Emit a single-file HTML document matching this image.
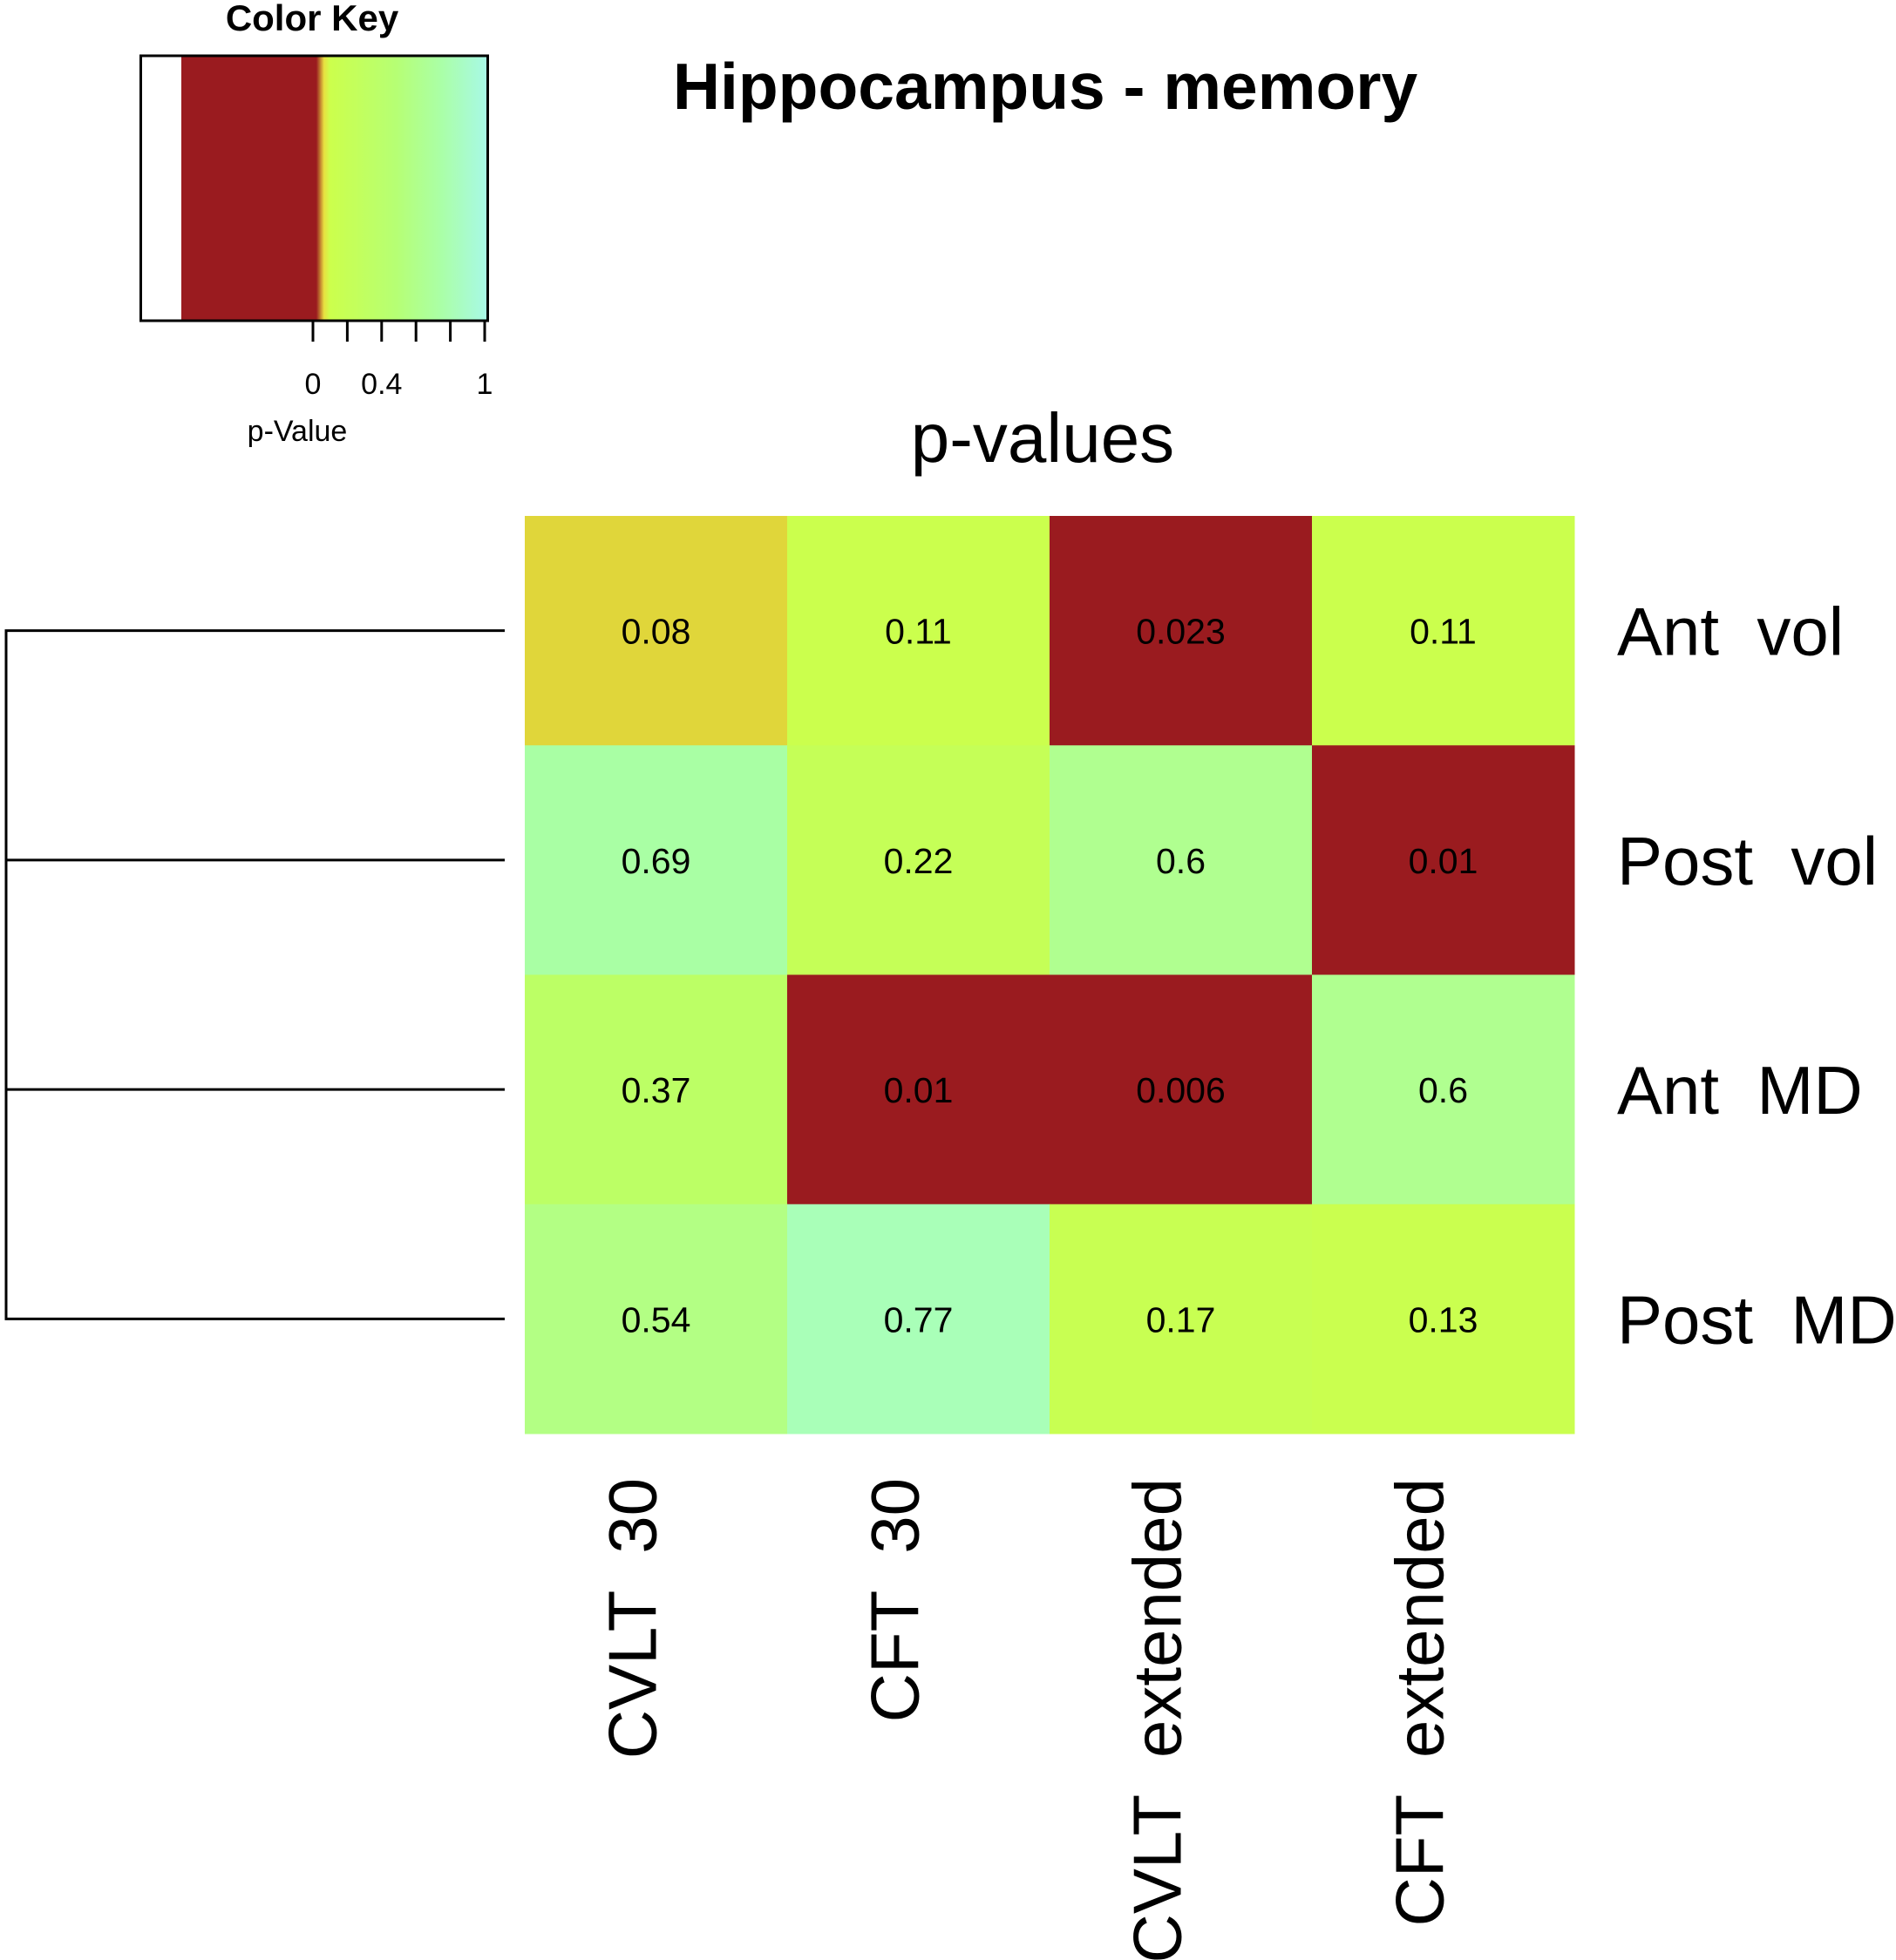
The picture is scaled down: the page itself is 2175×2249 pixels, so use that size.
<!DOCTYPE html>
<html><head><meta charset="utf-8"><style>
html,body{margin:0;padding:0;background:#fff;}
svg{display:block;}
text{font-family:"Liberation Sans",Arial,sans-serif;fill:#000;}
</style></head><body>
<svg id="chart" width="2175" height="2249" viewBox="0 0 2175 2249" xmlns="http://www.w3.org/2000/svg">
<defs>
<linearGradient id="kg" x1="0" x2="1" y1="0" y2="0">
<stop offset="0" stop-color="#9a1b1f"/><stop offset="0.44" stop-color="#9a1b1f"/>
<stop offset="0.465" stop-color="#e8e040"/><stop offset="0.485" stop-color="#ccff4c"/>
<stop offset="0.7" stop-color="#b6ff74"/><stop offset="0.85" stop-color="#aaffa8"/>
<stop offset="1" stop-color="#a8f8e8"/></linearGradient>
</defs>
<text x="358" y="35" font-size="42" font-weight="bold" text-anchor="middle">Color Key</text>
<rect x="208" y="64" width="352" height="304" fill="url(#kg)"/>
<rect x="161.5" y="64" width="398" height="304" fill="none" stroke="#000" stroke-width="3"/>
<g id="keyticks"></g>
<text x="341" y="506" font-size="34" text-anchor="middle">p-Value</text>
<text x="1199" y="125" font-size="75" font-weight="bold" text-anchor="middle">Hippocampus - memory</text>
<text x="1196" y="530" font-size="80" text-anchor="middle">p-values</text>
<g id="cells"></g>
<g id="dendro"></g>
<g id="rowlabels"></g>
<g id="collabels"></g>
</svg>
<script>
const rowLabels = ["Ant  vol","Post  vol","Ant  MD","Post  MD"];
const colLabels = ["CVLT  30","CFT  30","CVLT  extended","CFT  extended"];
const pRow0 = [0.08, 0.11, 0.023, 0.11];
const pRow1 = [0.69, 0.22, 0.6, 0.01];
const pRow2 = [0.37, 0.01, 0.006, 0.6];
const pRow3 = [0.54, 0.77, 0.17, 0.13];
const keyTickLabels = ["0","0.4","1"];
const keyTickValues = [0, 0.4, 1];

const values = [pRow0, pRow1, pRow2, pRow3];
const NS = "http://www.w3.org/2000/svg";
const X0 = 602, CW = 301, Y0 = 592, RH = 263.25;
const xPos = i => X0 + i * CW;
const yPos = j => Y0 + j * RH;
function mk(tag, attrs, parent){const e=document.createElementNS(NS,tag);for(const k in attrs)e.setAttribute(k,attrs[k]);parent.appendChild(e);return e;}
function hex(c){return [parseInt(c.slice(1,3),16),parseInt(c.slice(3,5),16),parseInt(c.slice(5,7),16)];}
const stops = [[0.1,"#ccff4c"],[0.2,"#c6ff55"],[0.4,"#baff68"],[0.6,"#b0ff90"],[0.7,"#a8ffa6"],[0.8,"#aaffc0"],[1,"#a8f8e8"]];
function color(p){
  if(p<0.05) return "#9a1b1f";
  if(p<0.095) return "#e0d63a";
  if(p<=stops[0][0]) return stops[0][1];
  for(let i=1;i<stops.length;i++){
    if(p<=stops[i][0]){const a=hex(stops[i-1][1]),b=hex(stops[i][1]);const t=(p-stops[i-1][0])/(stops[i][0]-stops[i-1][0]);
      return "rgb("+a.map((v,k)=>Math.round(v+(b[k]-v)*t)).join(",")+")";}
  }
  return stops[stops.length-1][1];
}
const cells=document.getElementById("cells");
values.forEach((row,j)=>row.forEach((v,i)=>{
  const r=mk("rect",{x:xPos(i),y:yPos(j),width:CW+0.5,height:RH+0.5,fill:color(v)},cells);
  
  
  const t=mk("text",{x:xPos(i)+CW/2,y:yPos(j)+RH/2+15,"font-size":41,"text-anchor":"middle"},cells);
  
  
  t.textContent=String(v);
}));
const rl=document.getElementById("rowlabels");
rowLabels.forEach((s,j)=>{
  const t=mk("text",{x:1855,y:yPos(j)+RH/2+28,"font-size":78},rl);
  t.style.whiteSpace="pre";
  
  
  t.textContent=s;
});
const cl=document.getElementById("collabels");
colLabels.forEach((s,i)=>{
  const cx=xPos(i)+CW/2, y=1696;
  const t=mk("text",{x:cx,y:y,"font-size":78,"text-anchor":"end",transform:`rotate(-90 ${cx} ${y})`},cl);
  t.style.whiteSpace="pre";
  
  
  t.textContent=s;
});
const d=document.getElementById("dendro");
const ys=rowLabels.map((_,j)=>yPos(j)+RH/2);
const v=mk("line",{x1:7,x2:7,y1:ys[0],y2:ys[ys.length-1],stroke:"#000","stroke-width":3},d);


ys.forEach(y=>{const l=mk("line",{x1:5.5,x2:579,y1:y,y2:y,stroke:"#000","stroke-width":3},d);
  
  });
const kt=document.getElementById("keyticks");
const kx = p => 359 + p*197;
mk("line",{x1:kx(0),x2:kx(1),y1:368,y2:368,stroke:"#000","stroke-width":3},kt);
for(let k=0;k<=5;k++){const l=mk("line",{x1:kx(k/5),x2:kx(k/5),y1:368,y2:392,stroke:"#000","stroke-width":3},kt);
  
  }
keyTickLabels.forEach((s,i)=>{const t=mk("text",{x:kx(keyTickValues[i]),y:452,"font-size":34,"text-anchor":"middle"},kt);
  
  
  t.textContent=s;});
</script>
</body></html>
